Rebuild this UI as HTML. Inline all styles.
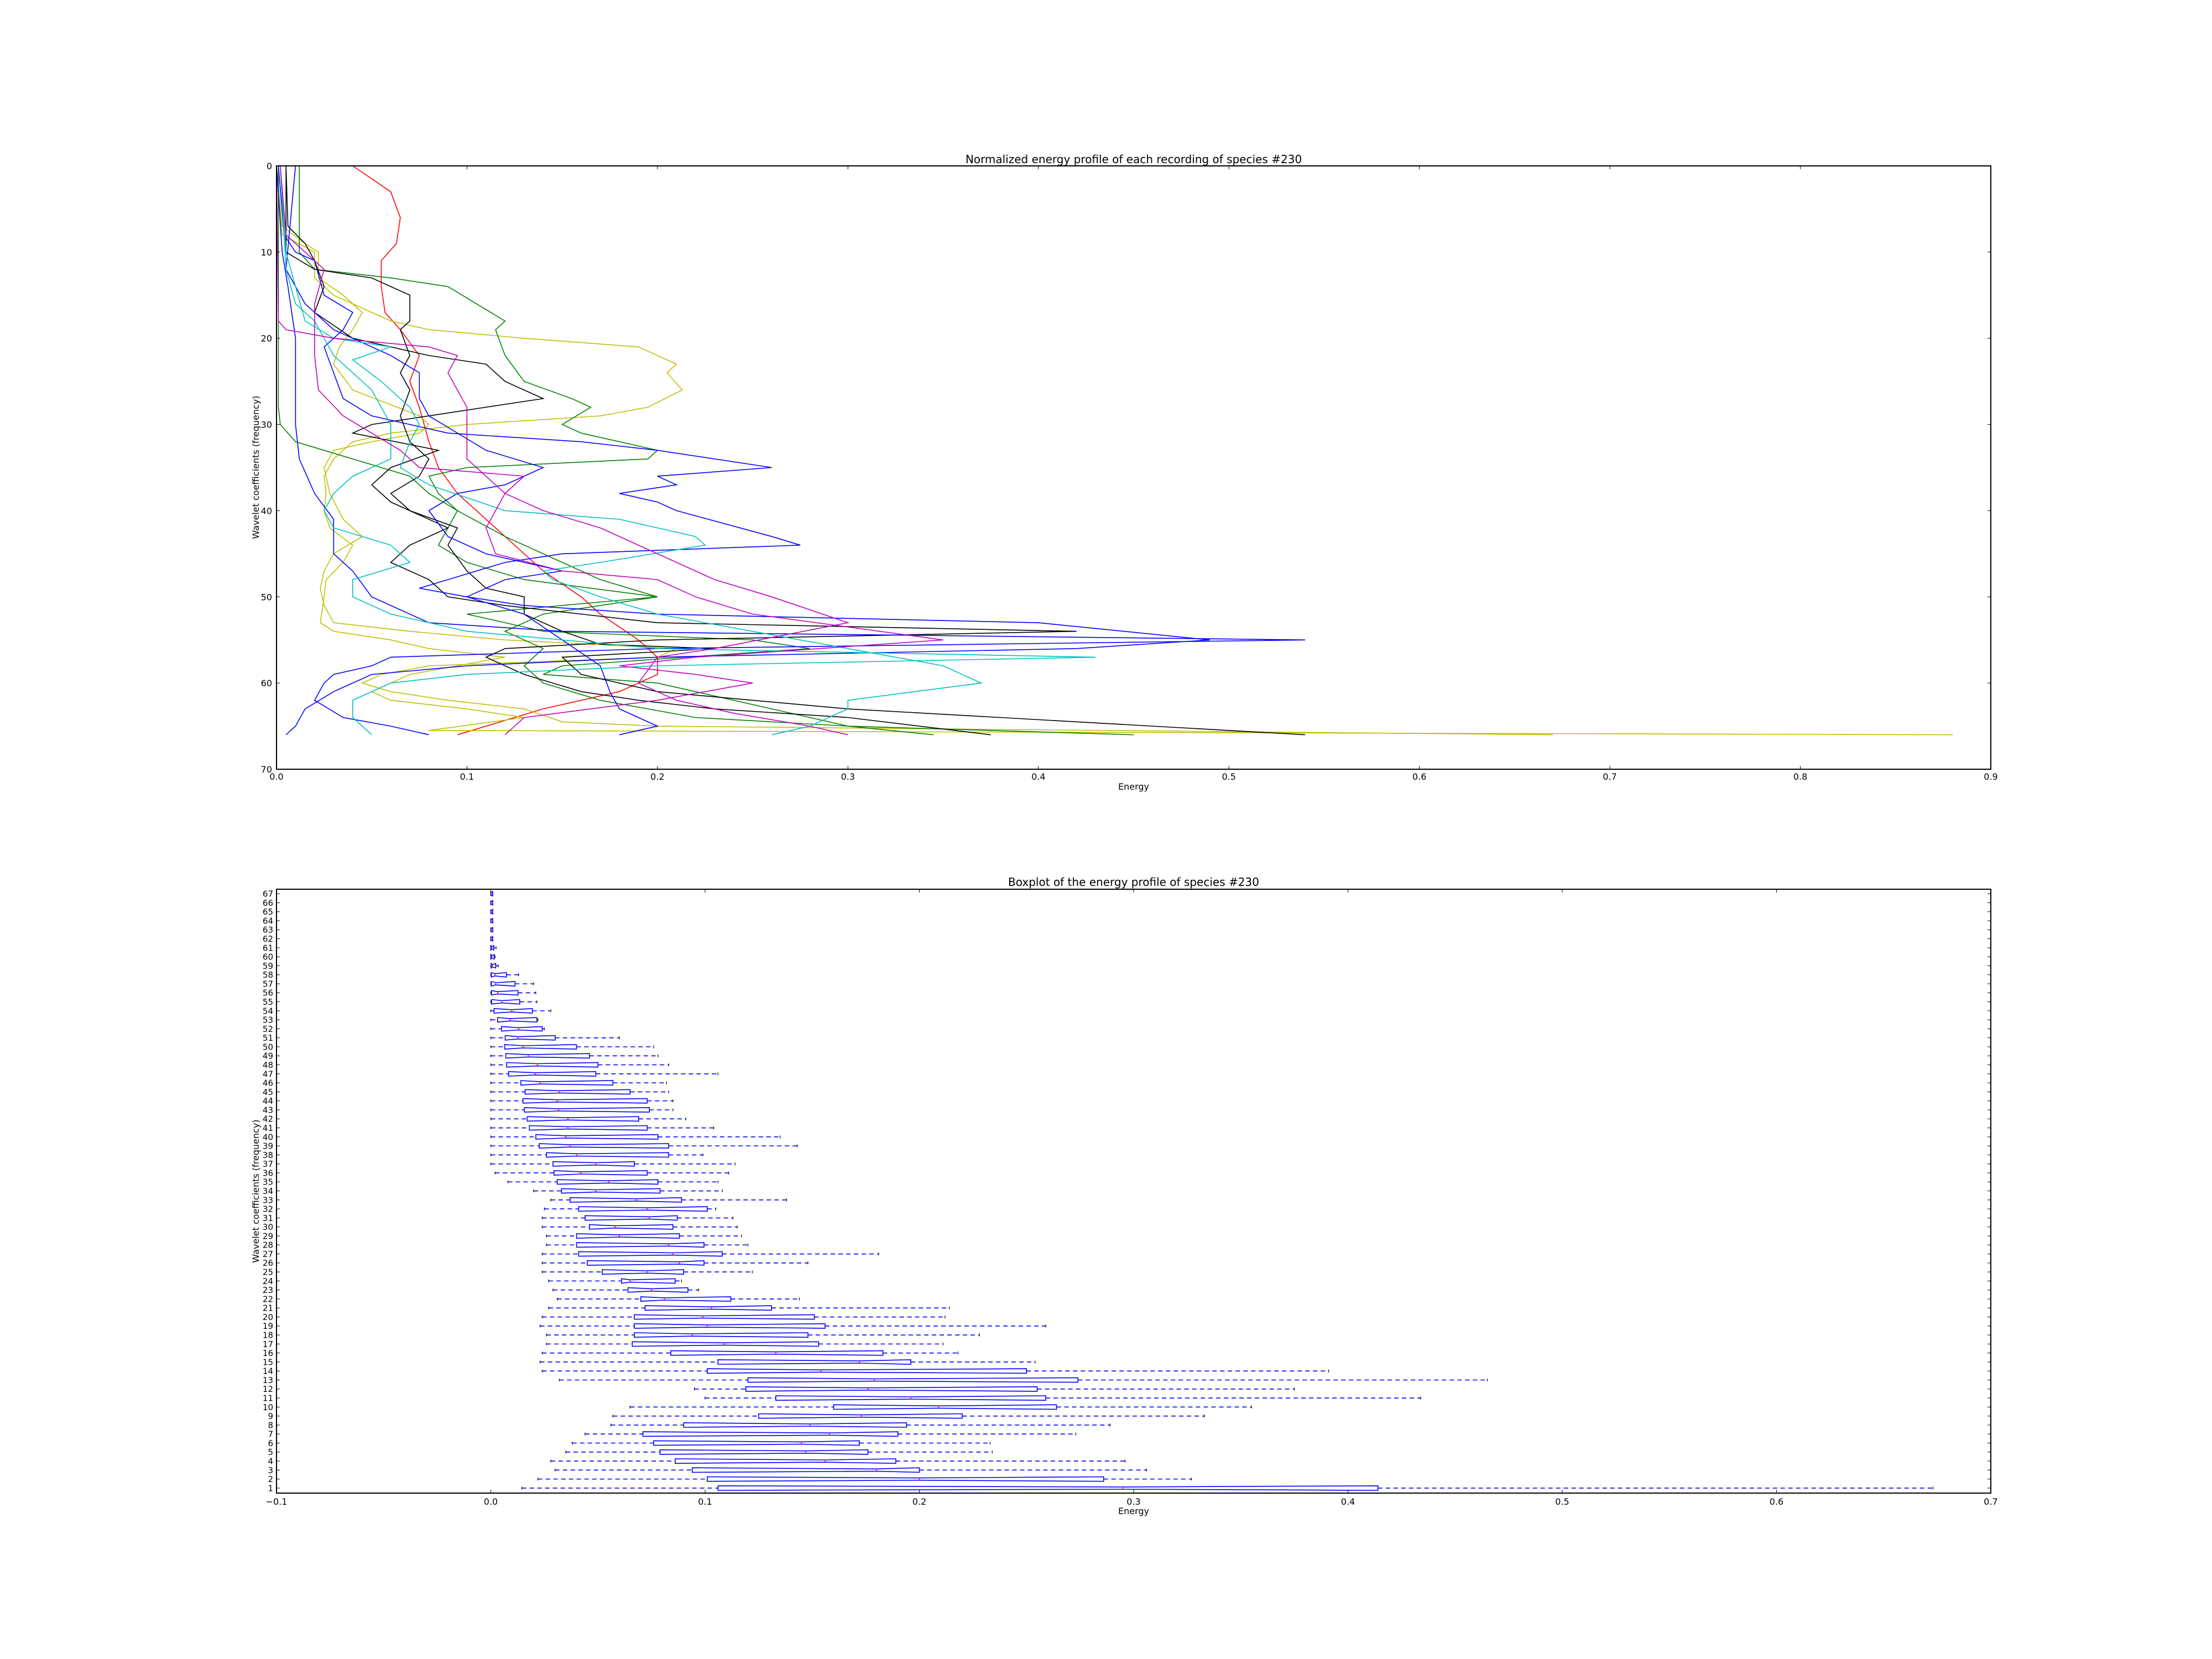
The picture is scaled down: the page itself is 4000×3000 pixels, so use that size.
<!DOCTYPE html>
<html><head><meta charset="utf-8"><style>
html,body{margin:0;padding:0;background:#fff;}
svg{display:block;font-family:"DejaVu Sans","Liberation Sans",sans-serif;}
</style></head><body>
<svg id="s" width="4000" height="3000" viewBox="0 0 4000 3000" xmlns="http://www.w3.org/2000/svg">
<rect width="4000" height="3000" fill="#fff"/>
<g id="lines" fill="none" stroke-width="1.6"></g>
<g id="boxes"></g>
<g id="ticks" stroke="#000" stroke-width="1"></g>
<rect x="500" y="300" width="3100" height="1091" fill="none" stroke="#000" stroke-width="2"/>
<rect x="500" y="1608" width="3100" height="1092" fill="none" stroke="#000" stroke-width="2"/>
<g font-size="16" fill="#000">
<text x="2050" y="295" text-anchor="middle" font-size="20">Normalized energy profile of each recording of species #230</text>
<text x="2050" y="1428" text-anchor="middle">Energy</text>
<text transform="translate(468,845) rotate(-90)" text-anchor="middle">Wavelet coefficients (frequency)</text>
<g text-anchor="middle">
<text x="500" y="1410">0.0</text><text x="844.4" y="1410">0.1</text><text x="1188.9" y="1410">0.2</text><text x="1533.3" y="1410">0.3</text><text x="1877.8" y="1410">0.4</text><text x="2222.2" y="1410">0.5</text><text x="2566.7" y="1410">0.6</text><text x="2911.1" y="1410">0.7</text><text x="3255.6" y="1410">0.8</text><text x="3600" y="1410">0.9</text>
</g>
<g text-anchor="end">
<text x="492" y="306">0</text><text x="492" y="461.9">10</text><text x="492" y="617.7">20</text><text x="492" y="773.6">30</text><text x="492" y="929.4">40</text><text x="492" y="1085.3">50</text><text x="492" y="1241.2">60</text><text x="492" y="1397">70</text>
</g>
<text x="2050" y="1602" text-anchor="middle" font-size="20">Boxplot of the energy profile of species #230</text>
<text x="2050" y="2738" text-anchor="middle">Energy</text>
<text transform="translate(468,2154) rotate(-90)" text-anchor="middle">Wavelet coefficients (frequency)</text>
<g text-anchor="middle">
<text x="500" y="2721">−0.1</text><text x="887.5" y="2721">0.0</text><text x="1275" y="2721">0.1</text><text x="1662.5" y="2721">0.2</text><text x="2050" y="2721">0.3</text><text x="2437.5" y="2721">0.4</text><text x="2825" y="2721">0.5</text><text x="3212.5" y="2721">0.6</text><text x="3600" y="2721">0.7</text>
</g>
<text text-anchor="end" font-size="15" x="494" y="1621.6"><tspan x="494">67</tspan><tspan x="494" dy="16.284">66</tspan><tspan x="494" dy="16.284">65</tspan><tspan x="494" dy="16.284">64</tspan><tspan x="494" dy="16.284">63</tspan><tspan x="494" dy="16.284">62</tspan><tspan x="494" dy="16.284">61</tspan><tspan x="494" dy="16.284">60</tspan><tspan x="494" dy="16.284">59</tspan><tspan x="494" dy="16.284">58</tspan><tspan x="494" dy="16.284">57</tspan><tspan x="494" dy="16.284">56</tspan><tspan x="494" dy="16.284">55</tspan><tspan x="494" dy="16.284">54</tspan><tspan x="494" dy="16.284">53</tspan><tspan x="494" dy="16.284">52</tspan><tspan x="494" dy="16.284">51</tspan><tspan x="494" dy="16.284">50</tspan><tspan x="494" dy="16.284">49</tspan><tspan x="494" dy="16.284">48</tspan><tspan x="494" dy="16.284">47</tspan><tspan x="494" dy="16.284">46</tspan><tspan x="494" dy="16.284">45</tspan><tspan x="494" dy="16.284">44</tspan><tspan x="494" dy="16.284">43</tspan><tspan x="494" dy="16.284">42</tspan><tspan x="494" dy="16.284">41</tspan><tspan x="494" dy="16.284">40</tspan><tspan x="494" dy="16.284">39</tspan><tspan x="494" dy="16.284">38</tspan><tspan x="494" dy="16.284">37</tspan><tspan x="494" dy="16.284">36</tspan><tspan x="494" dy="16.284">35</tspan><tspan x="494" dy="16.284">34</tspan><tspan x="494" dy="16.284">33</tspan><tspan x="494" dy="16.284">32</tspan><tspan x="494" dy="16.284">31</tspan><tspan x="494" dy="16.284">30</tspan><tspan x="494" dy="16.284">29</tspan><tspan x="494" dy="16.284">28</tspan><tspan x="494" dy="16.284">27</tspan><tspan x="494" dy="16.284">26</tspan><tspan x="494" dy="16.284">25</tspan><tspan x="494" dy="16.284">24</tspan><tspan x="494" dy="16.284">23</tspan><tspan x="494" dy="16.284">22</tspan><tspan x="494" dy="16.284">21</tspan><tspan x="494" dy="16.284">20</tspan><tspan x="494" dy="16.284">19</tspan><tspan x="494" dy="16.284">18</tspan><tspan x="494" dy="16.284">17</tspan><tspan x="494" dy="16.284">16</tspan><tspan x="494" dy="16.284">15</tspan><tspan x="494" dy="16.284">14</tspan><tspan x="494" dy="16.284">13</tspan><tspan x="494" dy="16.284">12</tspan><tspan x="494" dy="16.284">11</tspan><tspan x="494" dy="16.284">10</tspan><tspan x="494" dy="16.284">9</tspan><tspan x="494" dy="16.284">8</tspan><tspan x="494" dy="16.284">7</tspan><tspan x="494" dy="16.284">6</tspan><tspan x="494" dy="16.284">5</tspan><tspan x="494" dy="16.284">4</tspan><tspan x="494" dy="16.284">3</tspan><tspan x="494" dy="16.284">2</tspan><tspan x="494" dy="16.284">1</tspan></text>
</g>
</svg>
<script>
(function(){
var NS="http://www.w3.org/2000/svg";
function el(p,t,a){var e=document.createElementNS(NS,t);for(var k in a)e.setAttribute(k,a[k]);p.appendChild(e);return e;}
var X=function(v){return 500+v*3444.44;}, Y=function(i){return 300+i*15.586;};
var L=[
["#ff0000",[[0.04,0],[0.06,3],[0.065,6],[0.063,9],[0.055,11],[0.055,14],[0.057,17],[0.065,19],[0.075,22],[0.07,25],[0.075,28],[0.08,32],[0.085,35],[0.095,38],[0.11,41],[0.125,44],[0.14,47],[0.16,50],[0.17,52],[0.19,55],[0.2,57],[0.2,59],[0.18,61],[0.14,63],[0.095,66]]],
["#bfbf00",[[0,0],[0.003,8],[0.02,10],[0.02,13],[0.03,15],[0.06,18],[0.08,19],[0.13,20],[0.19,21],[0.21,23],[0.205,24],[0.213,26],[0.195,28],[0.17,29],[0.1,30],[0.06,31],[0.04,32],[0.03,34],[0.025,36],[0.026,38],[0.025,40],[0.028,42],[0.04,44],[0.035,46],[0.026,48],[0.025,50],[0.023,53],[0.03,54],[0.06,55],[0.08,56],[0.12,57],[0.095,58],[0.07,59],[0.06,60],[0.05,61],[0.06,62],[0.1,63],[0.13,64],[0.08,65.5],[0.88,66]]],
["#bfbf00",[[0,0],[0.003,7],[0.015,9],[0.022,10],[0.022,13],[0.035,15],[0.045,17],[0.04,19],[0.033,21],[0.03,23],[0.04,26],[0.075,29],[0.08,30],[0.075,31],[0.05,32],[0.03,33],[0.025,35],[0.028,38],[0.035,41],[0.045,43],[0.03,45],[0.025,47],[0.023,49],[0.025,51],[0.03,53],[0.07,54],[0.12,55],[0.21,56],[0.2,57],[0.08,58],[0.055,59],[0.045,60],[0.06,61],[0.09,62],[0.13,63],[0.15,64.5],[0.2,65],[0.67,66]]],
["#008000",[[0.012,0],[0.012,10],[0.02,12],[0.06,13],[0.09,14],[0.105,16],[0.12,18],[0.115,19],[0.12,22],[0.13,25],[0.155,27],[0.165,28],[0.15,30],[0.16,31],[0.2,33],[0.195,34],[0.1,35],[0.08,36],[0.085,38],[0.095,40],[0.09,42],[0.085,44],[0.1,46],[0.13,48],[0.2,50],[0.1,52],[0.14,54],[0.25,55],[0.28,56],[0.15,58],[0.14,59],[0.2,60],[0.26,63],[0.3,65],[0.345,66]]],
["#008000",[[0.001,0],[0.001,28],[0.002,30],[0.01,32],[0.04,34],[0.07,36],[0.08,38],[0.095,40],[0.12,43],[0.15,46],[0.17,48],[0.2,50],[0.14,52],[0.12,54],[0.14,56],[0.13,58],[0.14,60],[0.17,62],[0.22,64],[0.3,65],[0.45,66]]],
["#000000",[[0.005,0],[0.006,7],[0.015,9],[0.02,11],[0.025,14],[0.02,17],[0.04,20],[0.08,22],[0.11,23],[0.12,25],[0.14,27],[0.095,28.5],[0.05,30],[0.04,31],[0.085,33],[0.06,35],[0.05,37],[0.06,39],[0.09,42],[0.07,44],[0.06,46],[0.07,47],[0.08,48],[0.09,50],[0.12,51],[0.16,52],[0.2,53],[0.42,54],[0.2,55],[0.12,56],[0.11,57],[0.13,59],[0.16,61],[0.19,62],[0.23,63],[0.3,64],[0.375,66]]],
["#000000",[[0.005,0],[0.005,10],[0.02,12],[0.05,13],[0.07,15],[0.07,18],[0.065,19],[0.07,22],[0.065,24],[0.07,26],[0.065,29],[0.07,32],[0.08,34],[0.075,36],[0.06,38],[0.07,40],[0.095,42],[0.09,44],[0.1,47],[0.11,49],[0.13,50],[0.13,52],[0.15,54],[0.17,55.5],[0.23,56],[0.15,57],[0.16,59],[0.2,61],[0.3,63],[0.54,66]]],
["#0000ff",[[0.001,0],[0.004,8],[0.01,10],[0.02,11],[0.025,15],[0.04,17],[0.035,19],[0.025,21],[0.03,24],[0.035,27],[0.05,29],[0.09,31],[0.16,32],[0.2,33],[0.26,35],[0.2,36],[0.21,37],[0.18,38],[0.2,39],[0.21,40],[0.26,43],[0.275,44],[0.15,45],[0.12,46],[0.09,48],[0.075,49],[0.1,50],[0.13,51],[0.2,52],[0.4,53],[0.49,55],[0.42,56],[0.2,57],[0.1,58],[0.05,59],[0.03,61],[0.015,63],[0.01,65],[0.005,66]]],
["#0000ff",[[0,0],[0.003,10],[0.006,14],[0.01,20],[0.01,30],[0.012,34],[0.02,38],[0.03,41],[0.03,45],[0.04,47],[0.05,50],[0.08,53],[0.15,54],[0.35,54.5],[0.54,55],[0.2,56],[0.06,57],[0.05,58],[0.03,59],[0.025,60],[0.02,62],[0.035,64],[0.06,65],[0.08,66]]],
["#0000ff",[[0.01,0],[0.005,12],[0.015,16],[0.03,19],[0.06,22],[0.075,24],[0.075,27],[0.08,29],[0.11,33],[0.14,35],[0.12,37],[0.095,38],[0.08,40],[0.09,43],[0.11,45],[0.15,47],[0.12,48],[0.1,50],[0.13,52],[0.15,55],[0.17,58],[0.175,61],[0.18,63],[0.2,65],[0.18,66]]],
["#00bfbf",[[0.002,0],[0.005,10],[0.01,14],[0.015,18],[0.03,20],[0.06,21],[0.04,22.5],[0.055,25],[0.07,28],[0.075,30],[0.07,32],[0.065,35],[0.08,37],[0.12,40],[0.18,41],[0.22,43],[0.225,44],[0.17,46],[0.14,47],[0.145,48],[0.17,50],[0.2,52],[0.3,56],[0.35,58],[0.37,60],[0.3,62],[0.3,63],[0.29,64],[0.28,65],[0.26,66]]],
["#00bfbf",[[0.002,0],[0.005,12],[0.01,16],[0.02,18],[0.03,22],[0.05,26],[0.06,30],[0.06,34],[0.04,36],[0.03,38],[0.025,40],[0.03,42],[0.06,44],[0.07,46],[0.04,48],[0.04,50],[0.06,52],[0.1,54],[0.2,56],[0.43,57],[0.2,58],[0.1,59],[0.06,60],[0.04,62],[0.04,64],[0.05,66]]],
["#bf00bf",[[0.002,0],[0.005,8],[0.015,10],[0.025,12],[0.02,16],[0.02,22],[0.022,26],[0.035,29],[0.05,31],[0.065,33],[0.075,35],[0.13,36],[0.12,38],[0.11,42],[0.115,45],[0.15,47],[0.2,48],[0.22,50],[0.25,52],[0.35,55],[0.22,57],[0.18,58],[0.22,59],[0.25,60],[0.2,62],[0.13,64],[0.12,66]]],
["#bf00bf",[[0,0],[0.001,18],[0.005,19],[0.03,20],[0.08,21],[0.095,22],[0.09,24],[0.1,28],[0.1,34],[0.12,38],[0.14,40],[0.17,42],[0.2,45],[0.23,48],[0.26,50],[0.3,53],[0.23,56],[0.2,57],[0.19,60],[0.21,62],[0.24,63.5],[0.28,65],[0.3,66]]]
];
var gl=document.getElementById("lines");
L.forEach(function(l){el(gl,"polyline",{stroke:l[0],points:l[1].map(function(p){return X(p[0]).toFixed(1)+","+Y(p[1]).toFixed(1);}).join(" ")});});

var B={
1:[0.0145,0.106,0.295,0.414,0.673],2:[0.022,0.101,0.2,0.286,0.327],3:[0.030,0.094,0.180,0.2,0.306],4:[0.028,0.086,0.156,0.189,0.296],
5:[0.035,0.079,0.147,0.176,0.234],6:[0.038,0.076,0.145,0.172,0.233],7:[0.044,0.071,0.158,0.190,0.273],8:[0.056,0.090,0.149,0.194,0.289],
9:[0.057,0.125,0.173,0.220,0.333],10:[0.065,0.160,0.209,0.264,0.355],11:[0.100,0.133,0.196,0.259,0.434],12:[0.095,0.119,0.176,0.255,0.375],
13:[0.032,0.120,0.179,0.274,0.465],14:[0.024,0.101,0.154,0.250,0.391],15:[0.023,0.106,0.172,0.196,0.254],16:[0.024,0.084,0.133,0.183,0.218],
17:[0.026,0.066,0.109,0.153,0.211],18:[0.026,0.067,0.094,0.148,0.228],19:[0.023,0.067,0.101,0.156,0.259],20:[0.024,0.067,0.099,0.151,0.212],
21:[0.027,0.072,0.103,0.131,0.214],22:[0.031,0.070,0.081,0.112,0.144],23:[0.029,0.064,0.075,0.092,0.097],24:[0.027,0.061,0.065,0.086,0.089],
25:[0.024,0.052,0.073,0.090,0.122],26:[0.024,0.045,0.088,0.0995,0.148],27:[0.024,0.041,0.085,0.108,0.181],28:[0.026,0.040,0.083,0.0995,0.120],
29:[0.026,0.040,0.060,0.088,0.117],30:[0.024,0.046,0.058,0.085,0.115],31:[0.024,0.044,0.074,0.087,0.113],32:[0.025,0.041,0.073,0.101,0.105],
33:[0.028,0.037,0.068,0.089,0.138],34:[0.020,0.033,0.049,0.079,0.108],35:[0.008,0.031,0.055,0.078,0.106],36:[0.002,0.0295,0.042,0.073,0.111],
37:[0,0.029,0.049,0.067,0.114],38:[0,0.026,0.040,0.083,0.099],39:[0,0.0226,0.037,0.083,0.143],40:[0,0.021,0.035,0.078,0.135],
41:[0,0.018,0.036,0.073,0.104],42:[0,0.017,0.036,0.069,0.091],43:[0,0.0157,0.0316,0.074,0.085],44:[0,0.015,0.031,0.073,0.085],
45:[0,0.016,0.032,0.065,0.083],46:[0,0.014,0.023,0.057,0.082],47:[0,0.0083,0.0207,0.049,0.106],48:[0,0.0074,0.0217,0.050,0.083],
49:[0,0.007,0.0175,0.046,0.078],50:[0,0.0065,0.015,0.040,0.076],51:[0,0.0067,0.0127,0.030,0.060],52:[0,0.005,0.013,0.024,0.025],
53:[0,0.0032,0.009,0.0215,0.022],54:[0,0.0015,0.0098,0.0194,0.028],55:[0,0.0004,0.0052,0.0135,0.0215],56:[0,0.0003,0.0032,0.0127,0.021],
57:[0,0.0002,0.0023,0.0113,0.020],58:[0,0.0002,0.002,0.0073,0.013],59:[0,0.0002,0.0008,0.0023,0.0035],60:[0,0,0.0005,0.0016,0.002],
61:[0,0,0.0005,0.0014,0.0025]};
for(var r=62;r<=67;r++)B[r]=[0,0,0.0002,0.0009,0.0009];
var BX=function(v){return 887.5+v*3875;}, BY=function(r){return 2707.2-16.284*r;};
var gb=document.getElementById("boxes"),h=4.1;
for(var r=1;r<=67;r++){var d=B[r],y=BY(r),a=d.map(BX);
 el(gb,"line",{x1:a[0],x2:a[1],y1:y,y2:y,stroke:"#0000ff","stroke-width":1.6,"stroke-dasharray":"8,6"});
 el(gb,"line",{x1:a[3],x2:a[4],y1:y,y2:y,stroke:"#0000ff","stroke-width":1.6,"stroke-dasharray":"8,6"});
 el(gb,"line",{x1:a[0],x2:a[0],y1:y-2.5,y2:y+2.5,stroke:"#000","stroke-width":1.2});
 el(gb,"line",{x1:a[4],x2:a[4],y1:y-2.5,y2:y+2.5,stroke:"#000","stroke-width":1.2});
 var pts=[[a[1],y-h],[a[2],y-h/2],[a[3],y-h],[a[3],y+h],[a[2],y+h/2],[a[1],y+h]];
 el(gb,"polygon",{points:pts.map(function(p){return p[0].toFixed(1)+","+p[1].toFixed(1);}).join(" "),fill:"none",stroke:"#0000ff","stroke-width":1.6});
 el(gb,"line",{x1:a[2],x2:a[2],y1:y-h/2,y2:y+h/2,stroke:"#ff0000","stroke-width":1.4});
}
var gt=document.getElementById("ticks");
function tk(x1,y1,x2,y2){el(gt,"line",{x1:x1,y1:y1,x2:x2,y2:y2});}
for(var i=0;i<=9;i++){var x=X(i/10);tk(x,300,x,306);tk(x,1391,x,1385);}
for(var i=0;i<=7;i++){var y=Y(i*10);tk(500,y,506,y);tk(3600,y,3594,y);}
for(var i=0;i<=8;i++){var x=500+i*387.5;tk(x,1608,x,1614);tk(x,2700,x,2694);}
for(var r=1;r<=67;r++){var y=BY(r);tk(500,y,506,y);tk(3600,y,3594,y);}
})();
</script>
</body></html>
